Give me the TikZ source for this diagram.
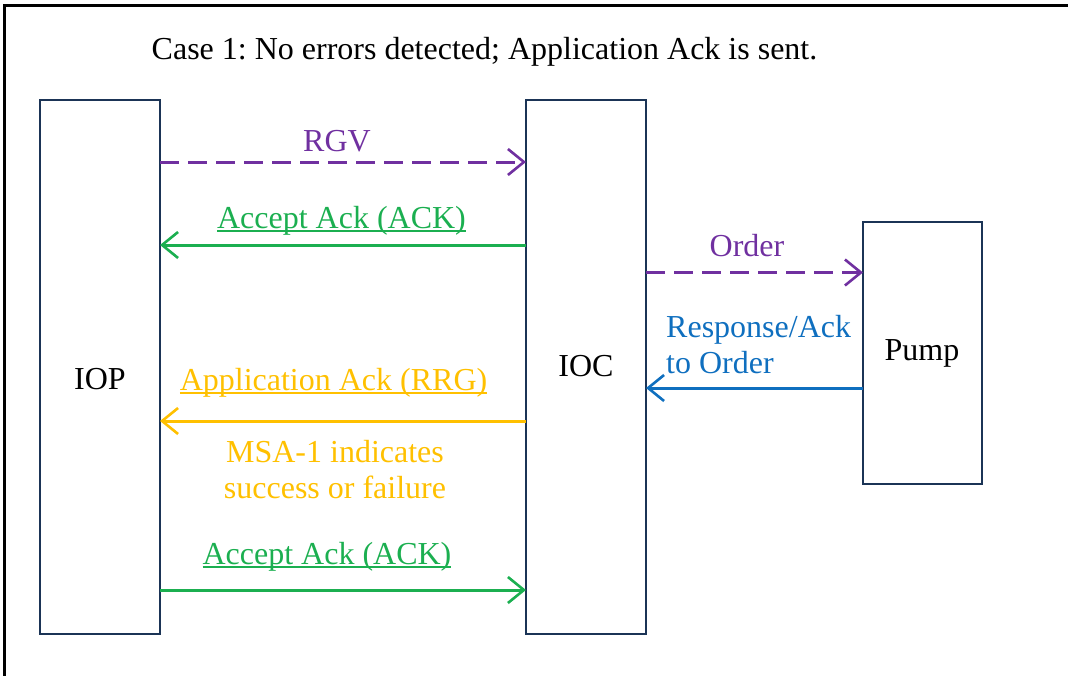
\documentclass[tikz,border=0pt]{standalone}
\usepackage{fontspec}
\setmainfont{Liberation Serif}
\usetikzlibrary{arrows.meta}
\definecolor{cpurple}{HTML}{7030A0}
\definecolor{cgreen}{HTML}{1BAF50}
\definecolor{cblue}{HTML}{0F6FBF}
\definecolor{cyellow}{HTML}{FFC000}
\definecolor{cnavy}{HTML}{1B3456}
\newcommand\myul[1]{\setbox0\hbox{#1}\rlap{\rule[-4pt]{\wd0}{1.8pt}}\box0}
\tikzset{
  box/.style={draw=cnavy, line width=2pt, minimum width=120pt, inner sep=0pt, outer sep=0pt},
  txt/.style={font=\fontsize{32}{35.3}\selectfont\frenchspacing, inner sep=0pt, anchor=base},
  msg/.style={line width=3pt, -{Straight Barb[length=16pt,width=26pt,line width=2.6pt]}},
  dmsg/.style={msg, dash pattern=on 19pt off 9pt},
}
\begin{document}
\begin{tikzpicture}[x=1pt,y=-1pt]
\useasboundingbox (0,0) rectangle (1068,675);
\clip (0,0) rectangle (1068,675);
\draw[line width=3pt] (4,5) rectangle (1100,700);
\node[txt] (title) at (484.5,59) {Case 1: No errors detected; Application Ack is sent.};
% boxes
\node[box, minimum height=534pt] (iop) at (100,367) {};
\node[box, minimum height=534pt] (ioc) at (586,367) {};
\node[box, minimum height=262pt, minimum width=119pt] (pump) at (922.5,353) {};
\node[txt] (iopl) at (100,389) {IOP};
\node[txt] (iocl) at (586,376) {IOC};
\node[txt] (pumpl) at (922,360) {Pump};
% messages
\draw[dmsg, cpurple] ([yshift=-62pt]iop.north east) -- ([yshift=-62pt]ioc.north west);
\node[txt, text=cpurple] (rgv) at (337,151) {RGV};
\draw[msg, cgreen] ([yshift=-145pt]ioc.north west) -- ([yshift=-145pt]iop.north east);
\node[txt, text=cgreen] (ack1) at (341.5,228) {\myul{Accept Ack (ACK)}};
\draw[dmsg, cpurple] ([yshift=-50.5pt]ioc.north east |- pump.north) -- ([yshift=-50.5pt]pump.north west);
\node[txt, text=cpurple] (order) at (747,256) {Order};
\draw[msg, cblue] ([yshift=-166pt]pump.north west) -- ([yshift=-166pt]ioc.north east |- pump.north);
\node[txt, text=cblue, anchor=base west, align=left] (resp) at (666,373) {Response/Ack\\to Order};
\draw[msg, cyellow] ([yshift=-321pt]ioc.north west) -- ([yshift=-321pt]iop.north east);
\node[txt, text=cyellow] (rrg) at (333.5,390) {\myul{Application Ack (RRG)}};
\node[txt, text=cyellow, align=center, anchor=base] (msa) at (335,498) {MSA-1 indicates\\success or failure};
\draw[msg, cgreen] ([yshift=-490pt]iop.north east) -- ([yshift=-490pt]ioc.north west);
\node[txt, text=cgreen] (ack2) at (327,564) {\myul{Accept Ack (ACK)}};
\end{tikzpicture}
\end{document}
